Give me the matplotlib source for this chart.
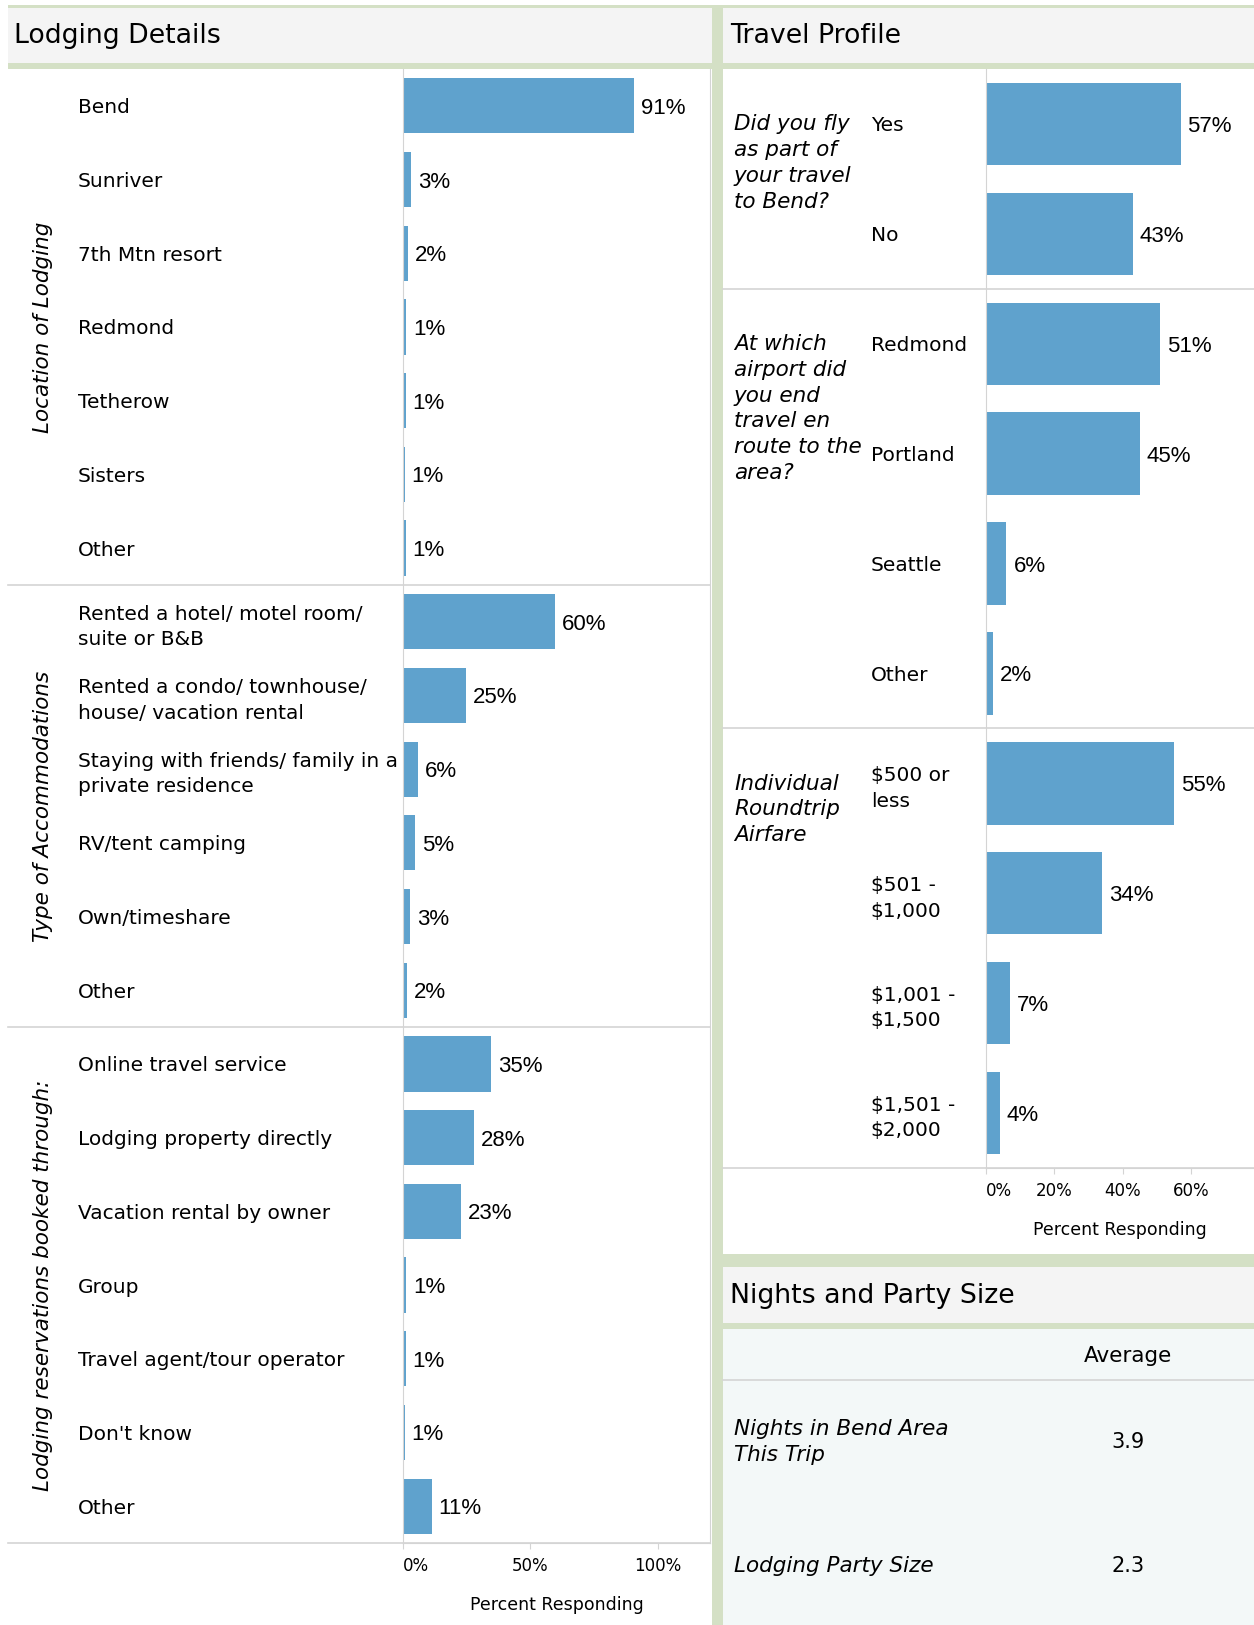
import matplotlib
matplotlib.use("Agg")
import matplotlib.pyplot as plt
from matplotlib.patches import Rectangle
import matplotlib.transforms as mtransforms

plt.rcParams['font.family'] = 'DejaVu Sans'
plt.rcParams['text.parse_math'] = False

# --- data -------------------------------------------------------------
loc_labels = ["Bend", "Sunriver", "7th Mtn resort", "Redmond", "Tetherow", "Sisters", "Other"]
loc_values = [90.8, 3.2, 1.9, 1.2, 1.1, 0.6, 1.0]

acc_labels = ["Rented a hotel/ motel room/\nsuite or B&B",
              "Rented a condo/ townhouse/\nhouse/ vacation rental",
              "Staying with friends/ family in a\nprivate residence",
              "RV/tent camping", "Own/timeshare", "Other"]
acc_values = [59.6, 24.6, 6.0, 4.8, 2.8, 1.6]

res_labels = ["Online travel service", "Lodging property directly", "Vacation rental by owner",
              "Group", "Travel agent/tour operator", "Don't know", "Other"]
res_values = [34.6, 28.0, 22.9, 1.2, 1.1, 0.6, 11.2]

left_groups = ["Location of Lodging", "Type of Accommodations", "Lodging reservations booked through:"]

fly_labels = ["Yes", "No"]
fly_values = [57, 43]
airport_labels = ["Redmond", "Portland", "Seattle", "Other"]
airport_values = [51, 45, 6, 2]
fare_labels = ["$500 or\nless", "$501 -\n$1,000", "$1,001 -\n$1,500", "$1,501 -\n$2,000"]
fare_values = [55, 34, 7, 4]

right_groups = ["Did you fly\nas part of\nyour travel\nto Bend?",
                "At which\nairport did\nyou end\ntravel en\nroute to the\narea?",
                "Individual\nRoundtrip\nAirfare"]

left_ticks = [0, 50, 100]
right_ticks = [0, 20, 40, 60]

metric_labels = ["Nights in Bend Area\nThis Trip", "Lodging Party Size"]
metric_avgs = [3.9, 2.3]

# --- style ------------------------------------------------------------
W, H = 1254, 1625
BAR = '#5fa2cd'
HEAD = '#f4f4f4'
GREEN = '#d4e0c5'
LINE = '#d4d4d4'
TABLE_BG = '#f3f8f8'
VALUE_FONT = 'Liberation Sans'

fig = plt.figure(figsize=(W / 100, H / 100), dpi=100)
bg = fig.add_axes([0, 0, 1, 1])
bg.set_xlim(0, W)
bg.set_ylim(H, 0)
bg.axis('off')


def px_axes(x0, y0, x1, y1):
    """axes placed by pixel box (top-left origin)"""
    return fig.add_axes([x0 / W, 1 - y1 / H, (x1 - x0) / W, (y1 - y0) / H])


def rect(x0, y0, x1, y1, color):
    bg.add_patch(Rectangle((x0, y0), x1 - x0, y1 - y0, facecolor=color, edgecolor='none'))


# panel frames
rect(8, 5, W, 7.5, GREEN)
rect(8, 7.5, 712, 63, HEAD)
rect(723, 7.5, W, 63, HEAD)
rect(8, 63, W, 69, GREEN)
rect(712, 5, 723, H, GREEN)
rect(723, 1254, W, 1267, GREEN)
rect(723, 1267, W, 1323, HEAD)
rect(723, 1323, W, 1329, GREEN)
rect(723, 1329, W, H, TABLE_BG)
bg.plot([723, W], [1380, 1380], color=LINE, lw=1.2)

bg.text(14, 36, "Lodging Details", fontsize=19.3, va='center', ha='left')
bg.text(730, 36, "Travel Profile", fontsize=19.3, va='center', ha='left')
bg.text(730, 1296, "Nights and Party Size", fontsize=19.3, va='center', ha='left')
bg.text(1128, 1356, "Average", fontsize=15.5, va='center', ha='center')


def bar_panel(ax, groups, xmax, ticks, pad, ext_left, title_x, title_kw):
    labels = [l for g in groups for l in g[0]]
    values = [v for g in groups for v in g[1]]
    n = len(values)
    y = list(range(n))
    bars = ax.barh(y, values, height=0.75, color=BAR)
    vlabels = ax.bar_label(bars, labels=[f"{v:.0f}%" for v in values], padding=5,
                           fontsize=16, fontfamily=VALUE_FONT)
    for t in vlabels:
        t.set_va('center_baseline')
    ax.set_xlim(0, xmax)
    ax.set_ylim(n - 0.5, -0.5)
    ax.set_yticks(y)
    ax.set_yticklabels(labels, ha='left', fontsize=14.5, linespacing=1.42)
    ax.tick_params(axis='y', length=0, pad=pad)
    ax.set_xticks(ticks)
    ax.set_xticklabels([f"{t}%" for t in ticks], fontsize=12)
    ax.get_xticklabels()[0].set_ha('left')
    ax.tick_params(axis='x', length=4, color=LINE, pad=6)
    ax.set_xlabel("Percent Responding", fontsize=12.5, labelpad=15)
    for s in ax.spines.values():
        s.set_color(LINE)
    ax.spines['top'].set_visible(False)

    trans = mtransforms.blended_transform_factory(ax.transAxes, ax.transData)
    # question text hangs from just above the first row's centre
    trans_q = mtransforms.offset_copy(trans, fig=fig, y=7, units='points')
    start = 0
    for (_, vals, title) in groups:
        k = len(vals)
        ax.axhline(start + k - 0.5, xmin=ext_left, xmax=1, color=LINE, lw=1.2, clip_on=False)
        if title_kw.get('rotation'):
            ax.text(title_x, start + (k - 1) / 2, title, transform=trans, clip_on=False,
                    ha='center', va='center', **title_kw)
        else:
            ax.text(title_x, start, title, transform=trans_q, clip_on=False,
                    ha='left', va='top', **title_kw)
        start += k


# left panel
axL = px_axes(403, 69, 710, 1543)
bar_panel(axL,
          [(loc_labels, loc_values, left_groups[0]),
           (acc_labels, acc_values, left_groups[1]),
           (res_labels, res_values, left_groups[2])],
          xmax=120.6, ticks=left_ticks, pad=234, ext_left=(8 - 403) / 307,
          title_x=(43 - 403) / 307,
          title_kw=dict(rotation=90, fontsize=15.5, style='italic'))

# right panel
axR = px_axes(986, 69, W, 1168)
bar_panel(axR,
          [(fly_labels, fly_values, right_groups[0]),
           (airport_labels, airport_values, right_groups[1]),
           (fare_labels, fare_values, right_groups[2])],
          xmax=78.5, ticks=right_ticks, pad=83, ext_left=(723 - 986) / 268,
          title_x=(734 - 986) / 268,
          title_kw=dict(fontsize=15.5, style='italic', linespacing=1.36))
axR.spines['right'].set_visible(False)

# nights and party size table
axT = px_axes(723, 1380, W, 1628)
axT.set_xlim(0, 1)
axT.set_ylim(len(metric_avgs) - 0.5, -0.5)
axT.axis('off')
for i, (lab, val) in enumerate(zip(metric_labels, metric_avgs)):
    axT.text(0.02, i, lab, fontsize=15.5, style='italic', ha='left', va='center', linespacing=1.36)
    axT.text(0.763, i, f"{val:.1f}", fontsize=15, ha='center', va='center')

fig.savefig("out.png", dpi=100)
